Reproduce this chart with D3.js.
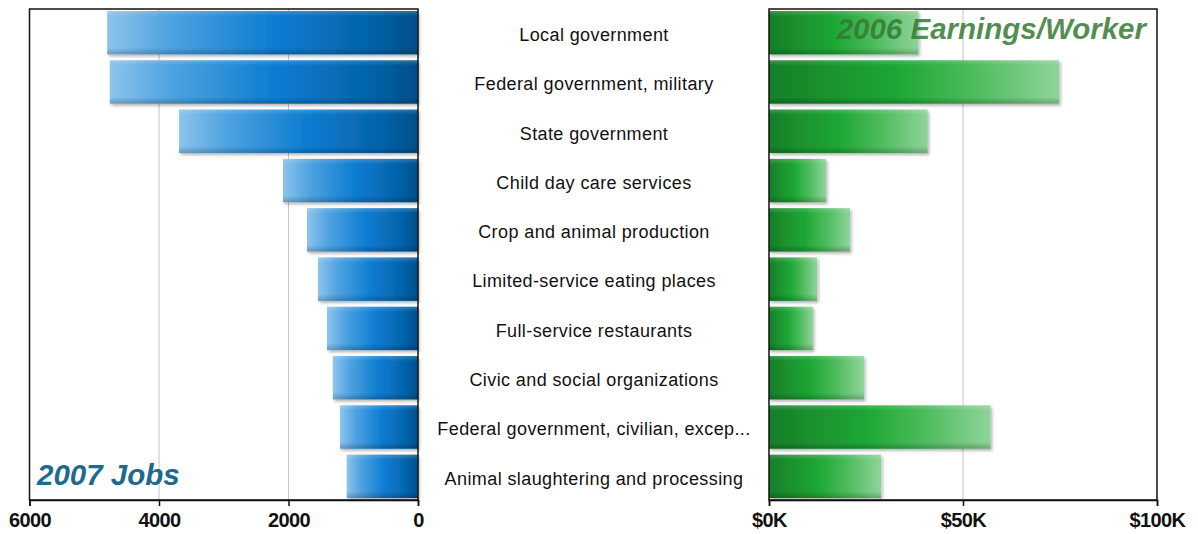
<!DOCTYPE html>
<html>
<head>
<meta charset="utf-8">
<script src="https://cdn.jsdelivr.net/npm/d3@7"></script>
<style>
  html, body { margin: 0; padding: 0; background: #fff; }
  svg { display: block; font-family: "Liberation Sans", Arial, sans-serif; }
</style>
</head>
<body>
<svg id="chart" width="1198" height="534"></svg>
<script>
// Industries, ranked by 2007 job count
const industries = [
  "Local government",
  "Federal government, military",
  "State government",
  "Child day care services",
  "Crop and animal production",
  "Limited-service eating places",
  "Full-service restaurants",
  "Civic and social organizations",
  "Federal government, civilian, excep...",
  "Animal slaughtering and processing"
];
// 2007 jobs
const jobs2007 = [4800, 4760, 3690, 2085, 1715, 1545, 1405, 1315, 1205, 1100];
// 2006 earnings per worker, dollars
const earnings2006 = [38500, 74800, 40900, 14700, 20900, 12400, 11300, 24500, 57100, 28900];
// Axis ticks
const jobTicks = [6000, 4000, 2000, 0];
const earnTicks = [0, 50000, 100000];

const svg = d3.select("#chart");
const plotTop = 9, plotBottom = 500;

const y = d3.scaleBand().domain(industries).range([plotTop, plotBottom])
  .paddingInner(0.12).paddingOuter(0.04);
const xJobs = d3.scaleLinear().domain([0, 6000]).range([418, 29.5]);
const xEarn = d3.scaleLinear().domain([0, 100000]).range([769, 1157]);

// Gradients and shadow
const defs = svg.append("defs");
const blue = defs.append("linearGradient").attr("id", "gBlue");
[[0, "#8cc4ec"], [0.2, "#4ea2e0"], [0.55, "#0a7bd0"], [0.85, "#0563aa"], [1, "#044f88"]]
  .forEach(([o, c]) => blue.append("stop").attr("offset", o).attr("stop-color", c));
const green = defs.append("linearGradient").attr("id", "gGreen");
[[0, "#177f28"], [0.45, "#1fa836"], [0.7, "#4cbb5c"], [1, "#8fd49a"]]
  .forEach(([o, c]) => green.append("stop").attr("offset", o).attr("stop-color", c));
const shade = defs.append("linearGradient").attr("id", "gShade")
  .attr("x1", 0).attr("x2", 0).attr("y1", 0).attr("y2", 1);
[[0, "#ffffff", 0.18], [0.12, "#ffffff", 0.0], [0.85, "#000000", 0.0], [1, "#000000", 0.22]]
  .forEach(([o, c, a]) => shade.append("stop").attr("offset", o).attr("stop-color", c).attr("stop-opacity", a));
const f = defs.append("filter").attr("id", "shadow")
  .attr("x", "-5%").attr("y", "-10%").attr("width", "115%").attr("height", "140%");
f.append("feDropShadow").attr("dx", 1.5).attr("dy", 2).attr("stdDeviation", 1.5)
  .attr("flood-color", "#000").attr("flood-opacity", 0.3);

// Grid lines
svg.append("g").selectAll("line").data([4000, 2000]).join("line")
  .attr("x1", d => xJobs(d)).attr("x2", d => xJobs(d))
  .attr("y1", plotTop).attr("y2", plotBottom)
  .attr("stroke", "#c4c4c4").attr("stroke-width", 1);
svg.append("g").selectAll("line").data([50000]).join("line")
  .attr("x1", d => xEarn(d)).attr("x2", d => xEarn(d))
  .attr("y1", plotTop).attr("y2", plotBottom)
  .attr("stroke", "#c4c4c4").attr("stroke-width", 1);

// Jobs bars
const gJobs = svg.append("g");
gJobs.selectAll("rect.bar").data(industries).join("rect")
  .attr("class", "bar")
  .attr("x", (d, i) => xJobs(jobs2007[i]))
  .attr("y", d => y(d))
  .attr("width", (d, i) => xJobs(0) - xJobs(jobs2007[i]))
  .attr("height", y.bandwidth())
  .attr("fill", "url(#gBlue)")
  .attr("filter", "url(#shadow)");
gJobs.selectAll("rect.sh").data(industries).join("rect")
  .attr("class", "sh")
  .attr("x", (d, i) => xJobs(jobs2007[i]))
  .attr("y", d => y(d))
  .attr("width", (d, i) => xJobs(0) - xJobs(jobs2007[i]))
  .attr("height", y.bandwidth())
  .attr("fill", "url(#gShade)");

// Earnings bars
const gEarn = svg.append("g");
gEarn.selectAll("rect.bar").data(industries).join("rect")
  .attr("class", "bar")
  .attr("x", xEarn(0))
  .attr("y", d => y(d))
  .attr("width", (d, i) => xEarn(earnings2006[i]) - xEarn(0))
  .attr("height", y.bandwidth())
  .attr("fill", "url(#gGreen)")
  .attr("filter", "url(#shadow)");
gEarn.selectAll("rect.sh").data(industries).join("rect")
  .attr("class", "sh")
  .attr("x", xEarn(0))
  .attr("y", d => y(d))
  .attr("width", (d, i) => xEarn(earnings2006[i]) - xEarn(0))
  .attr("height", y.bandwidth())
  .attr("fill", "url(#gShade)");

// Panel frames
const frame = (x0, x1) => svg.append("rect")
  .attr("x", x0).attr("y", plotTop).attr("width", x1 - x0).attr("height", plotBottom - plotTop)
  .attr("fill", "none").attr("stroke", "#111").attr("stroke-width", 1.5);
frame(xJobs(6000), xJobs(0));
frame(xEarn(0), xEarn(100000));

// Axes
const axJobs = svg.append("g").attr("transform", `translate(0,${plotBottom})`)
  .call(d3.axisBottom(xJobs).tickValues(jobTicks).tickSize(6).tickPadding(7).tickFormat(d3.format("d")));
const axEarn = svg.append("g").attr("transform", `translate(0,${plotBottom})`)
  .call(d3.axisBottom(xEarn).tickValues(earnTicks).tickSize(6).tickPadding(7)
    .tickFormat(d => "$" + (d / 1000) + "K"));
[axJobs, axEarn].forEach(ax => {
  ax.select(".domain").attr("stroke", "#111").attr("stroke-width", 1.5);
  ax.selectAll(".tick line").attr("stroke", "#111").attr("stroke-width", 1.5);
  ax.selectAll(".tick text")
    .attr("fill", "#111")
    .style("font-family", "'Liberation Sans', Arial, sans-serif")
    .style("font-size", "20px").style("font-weight", "bold")
    .style("letter-spacing", "-0.6px");
});

// Category labels
svg.append("g").selectAll("text").data(industries).join("text")
  .attr("x", 594)
  .attr("y", d => y(d) + y.bandwidth() / 2 + 2)
  .attr("dy", "0.35em")
  .attr("text-anchor", "middle")
  .attr("fill", "#111")
  .style("font-size", "18px")
  .style("letter-spacing", "0.4px")
  .text(d => d);

// Panel titles
svg.append("text")
  .attr("x", 37).attr("y", 485)
  .attr("fill", "#1d6a8e")
  .style("font-size", "29.5px").style("font-weight", "bold").style("font-style", "italic")
  .text("2007 Jobs");
svg.append("text")
  .attr("x", 1146).attr("y", 39)
  .attr("text-anchor", "end")
  .attr("fill", "#337a33").attr("fill-opacity", 0.85)
  .style("font-size", "29.5px").style("font-weight", "bold").style("font-style", "italic")
  .text("2006 Earnings/Worker");
</script>
</body>
</html>
